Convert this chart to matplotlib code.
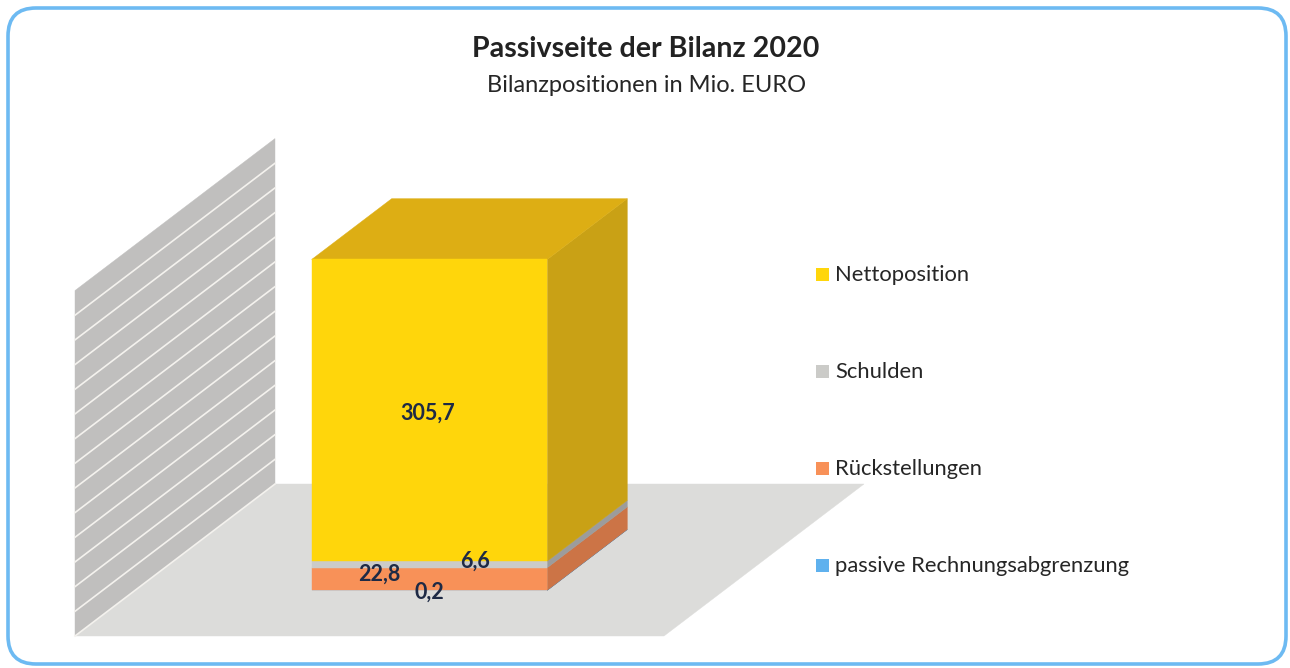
import matplotlib
matplotlib.use('Agg')
import matplotlib.pyplot as plt
from matplotlib.patches import FancyBboxPatch, Polygon, Rectangle
import numpy as np

plt.rcParams['font.family'] = ['Lato', 'DejaVu Sans']

# data, bottom to top of the stack
categories = ['passive Rechnungsabgrenzung', 'Rückstellungen', 'Schulden', 'Nettoposition']
values = [0.2, 22.8, 6.6, 305.7]
value_labels = ['0,2', '22,8', '6,6', '305,7']
gridlines = np.arange(0, 351, 25)
title = 'Passivseite der Bilanz 2020'
subtitle = 'Bilanzpositionen in Mio. EURO'

front_cols = ['#5FB1EE', '#F89158', '#CBCBC8', '#FFD60B']
side_cols = ['#4A8CC0', '#CC7446', '#9C9C9C', '#C9A115']
top_cols = ['#5FA0D8', '#E08050', '#B0B0B0', '#DDAE14']

# oblique projection: width 0-1, depth 0-1, value in Mio. EURO -> pixels
X0, Y0 = 75, 636
WIDTH = 589
DEPTH_X, DEPTH_Y = 200, -152
PX_PER_VALUE = 0.987


def project(x, d, v):
    return (X0 + x * WIDTH + d * DEPTH_X, Y0 + d * DEPTH_Y - v * PX_PER_VALUE)


def face(ax, pts, col, z=2):
    ax.add_patch(Polygon([project(*p) for p in pts], closed=True, fc=col, ec=col, lw=0.3, zorder=z))


fig = plt.figure(figsize=(12.9, 6.68), dpi=100)
ax = fig.add_axes([0, 0, 1, 1])
ax.set_xlim(0, 1290)
ax.set_ylim(668, 0)
ax.axis('off')

# frame
ax.add_patch(FancyBboxPatch((8, 8), 1278, 656, boxstyle='round,pad=0,rounding_size=28',
                            fc='white', ec='#6DBAF2', lw=2.6, zorder=1))

# floor and back wall
top_v = gridlines[-1]
face(ax, [(0, 0, 0), (1, 0, 0), (1, 1, 0), (0, 1, 0)], '#DCDCDA')
face(ax, [(0, 0, 0), (0, 1, 0), (0, 1, top_v), (0, 0, top_v)], '#C0BFBE')
for g in gridlines[:-1]:
    a = project(0, 0, g)
    b = project(0, 1, g)
    ax.plot([a[0], b[0]], [a[1], b[1]], color='#F4F2EE', lw=1.2, zorder=3)

# stacked box
x1, x2 = 0.30, 0.70
d1, d2 = 0.30, 0.70
bottom = 0
for val, fc, sc in zip(values, front_cols, side_cols):
    t = bottom + val
    face(ax, [(x2, d1, bottom), (x2, d2, bottom), (x2, d2, t), (x2, d1, t)], sc, 4)
    face(ax, [(x1, d1, bottom), (x2, d1, bottom), (x2, d1, t), (x1, d1, t)], fc, 5)
    bottom = t
face(ax, [(x1, d1, bottom), (x2, d1, bottom), (x2, d2, bottom), (x1, d2, bottom)], top_cols[-1], 4)

# value labels, hand placed like the original
label_pos = [(429, 592), (379, 574), (475, 561), (428, 413)]
for (lx, ly), s in zip(label_pos, value_labels):
    ax.text(lx, ly, s, ha='center', va='center', fontsize=15.5, fontweight='bold', color='#1E2A45', zorder=8)

# legend
legend_y = [566, 469, 372, 275]
for name, col, ly in zip(categories, front_cols, legend_y):
    ax.add_patch(Rectangle((816, ly - 7), 13, 13, fc=col, ec='none', zorder=6))
    ax.text(835, ly, name, ha='left', va='center', fontsize=15.8, color='#262626', zorder=6)

# titles
ax.text(646, 49, title, ha='center', va='center', fontsize=20.6, fontweight='bold', color='#222222')
ax.text(647, 85, subtitle, ha='center', va='center', fontsize=17, color='#262626')

fig.savefig('out.png', dpi=100)
